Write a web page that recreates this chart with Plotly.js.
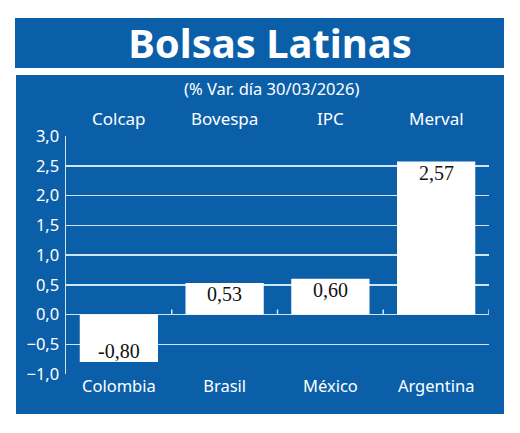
<!DOCTYPE html>
<html><head><meta charset="utf-8">
<script src="https://cdn.plot.ly/plotly-3.0.1.min.js"></script>
<style>html,body{margin:0;padding:0;background:#fff}#chart{width:520px;height:433px}</style>
</head><body><div id="chart"></div>
<script>
const countries = ['Colombia', 'Brasil', 'México', 'Argentina'];
const indices = ['Colcap', 'Bovespa', 'IPC', 'Merval'];
const changes = [-0.80, 0.53, 0.60, 2.57];
const yTicks = [-1.0, -0.5, 0.0, 0.5, 1.0, 1.5, 2.0, 2.5, 3.0];
const titleText = 'Bolsas Latinas';
const subtitleText = '(% Var. día 30/03/2026)';

const W = 520, H = 433;
const M = {l: 66, r: 31, t: 136, b: 59};
const pw = W - M.l - M.r, ph = H - M.t - M.b;
const px = v => (v - M.l) / pw;
const py = v => (H - M.b - v) / ph;

const BLUE = '#0b5fa9';
const GRID = '#cfe5f6';
const SANS = 'Noto Sans, sans-serif';

const fmt = v => v.toFixed(2).replace('.', ',');

const trace = {
  type: 'bar',
  x: countries,
  y: changes,
  marker: {color: '#ffffff', line: {width: 0}},
  hoverinfo: 'none',
  cliponaxis: false
};

const shapes = [
  {type: 'rect', xref: 'paper', yref: 'paper', x0: px(15), x1: px(504), y0: py(68), y1: py(18), fillcolor: BLUE, line: {width: 0}, layer: 'below'},
  {type: 'rect', xref: 'paper', yref: 'paper', x0: px(16), x1: px(504), y0: py(414), y1: py(75), fillcolor: BLUE, line: {width: 0}, layer: 'below'}
];
for (let i = 0; i < countries.length; i++) {
  shapes.push({type: 'line', xref: 'x', yref: 'y', x0: i + 0.5, x1: i + 0.5,
    ysizemode: 'pixel', yanchor: 0, y0: 0, y1: 5, line: {color: GRID, width: 1.5}, layer: 'above'});
}

const annotations = [
  {text: subtitleText, xref: 'paper', yref: 'paper', x: px(271), y: py(88), showarrow: false,
   font: {family: SANS, size: 16.5, color: '#ffffff'}, xanchor: 'center', yanchor: 'middle'}
];
indices.forEach((t, i) => annotations.push({
  text: t, xref: 'x', yref: 'paper', x: countries[i], y: py(118), showarrow: false,
  font: {family: SANS, size: 17, color: '#ffffff'}, xanchor: 'center', yanchor: 'middle'
}));
changes.forEach((v, i) => annotations.push({
  text: fmt(v), xref: 'x', yref: 'y', x: countries[i], y: v, showarrow: false,
  xanchor: 'center', yanchor: 'middle', yshift: v >= 0 ? -11 : 11,
  font: {family: 'Liberation Serif, serif', size: 20, color: '#111111'}
}));

const layout = {
  width: W, height: H,
  margin: M,
  paper_bgcolor: '#ffffff',
  plot_bgcolor: BLUE,
  separators: ',.',
  showlegend: false,
  bargap: 0.26,
  title: {text: '<b>' + titleText + '</b>', x: px(270), xanchor: 'center', xref: 'paper',
          y: 1 - 44 / H, yref: 'container', yanchor: 'middle',
          font: {family: SANS, size: 40, color: '#ffffff'}},
  xaxis: {
    type: 'category', range: [-0.5, countries.length - 0.5],
    showgrid: false, zeroline: false, showline: false,
    ticks: '', tickfont: {family: SANS, size: 16.5, color: '#ffffff'},
    ticklabelstandoff: 0, fixedrange: true
  },
  yaxis: {
    range: [-1.0, 3.0], tickvals: yTicks, tickformat: '.1f',
    showgrid: true, gridcolor: GRID, gridwidth: 1.5,
    zeroline: true, zerolinecolor: GRID, zerolinewidth: 1.5,
    showline: true, linecolor: GRID, linewidth: 1.5,
    ticks: '', ticklabelstandoff: 2,
    tickfont: {family: SANS, size: 16.5, color: '#ffffff'}, fixedrange: true
  },
  shapes: shapes,
  annotations: annotations
};

Plotly.newPlot('chart', [trace], layout, {displayModeBar: false, staticPlot: true});
</script>
</body></html>
